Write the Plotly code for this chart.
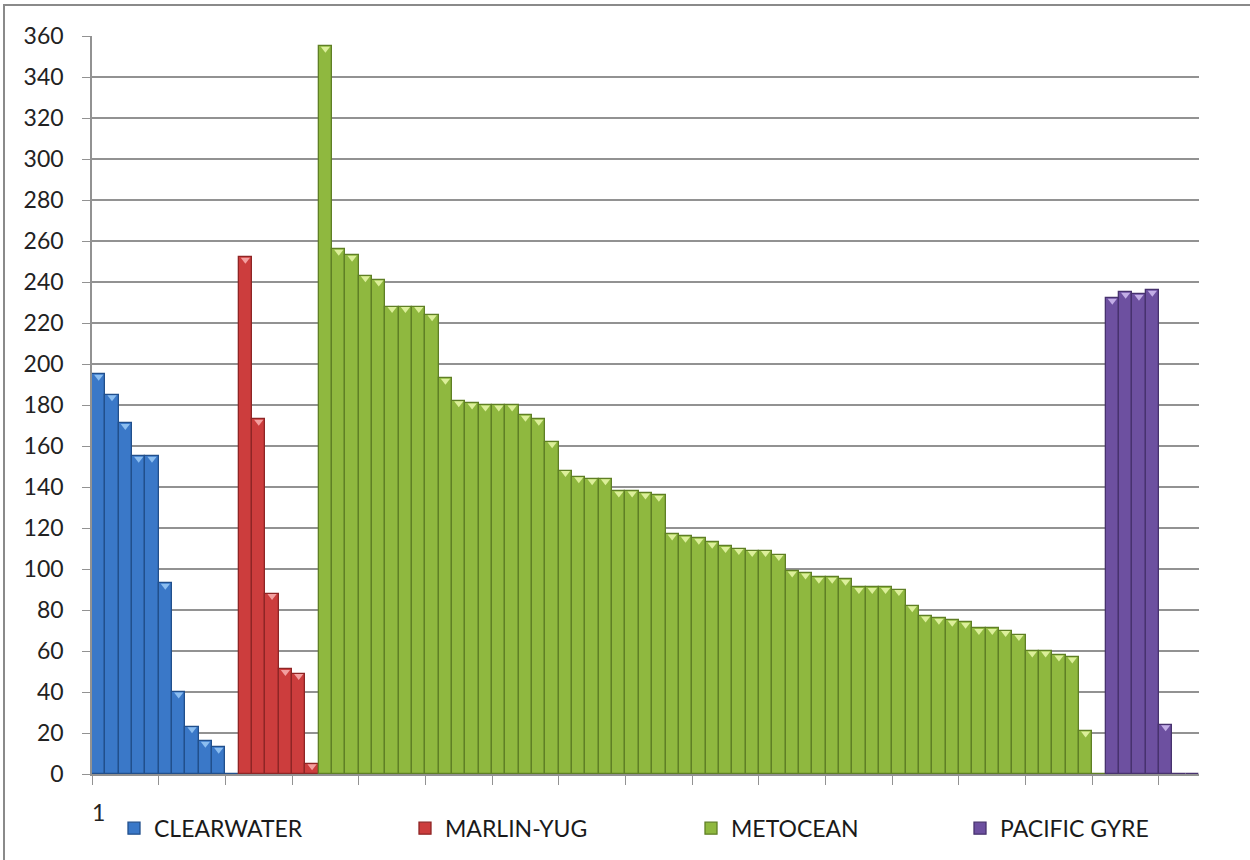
import plotly.graph_objects as go

# ---------------- data ----------------
series_names = ["CLEARWATER", "MARLIN-YUG", "METOCEAN", "PACIFIC GYRE"]
clearwater = [195, 185, 171, 155, 155, 93, 40, 23, 16, 13, 0]
marlin_yug = [252, 173, 88, 51, 49, 5]
metocean = [355, 256, 253, 243, 241, 228, 228, 228, 224, 193,
            182, 181, 180, 180, 180, 175, 173, 162, 148, 145,
            144, 144, 138, 138, 137, 136, 117, 116, 115, 113,
            111, 110, 109, 109, 107, 99, 98, 96, 96, 95,
            91, 91, 91, 90, 82, 77, 76, 75, 74, 71,
            71, 70, 68, 60, 60, 58, 57, 21, 0]
pacific_gyre = [232, 235, 234, 236, 24, 0, 0]
y_ticks = list(range(0, 361, 20))
x_tick_labels = ["1"]

# ---------------- styles ----------------
fill_colors = ["#3a78c8", "#cc3d3d", "#8fb83f", "#6d50a0"]
edge_colors = ["#214f8c", "#8e2525", "#5f7f25", "#47326e"]
tip_colors = ["#8cbef0", "#f3a0a0", "#dcef9a", "#c3aee6"]
legend_ids = ["legend", "legend2", "legend3", "legend4"]
legend_x_px = [114, 405, 691, 960]
FONT = "Lato, 'Open Sans', sans-serif"
GRID = "#929292"
W, H = 1250, 860

all_series = [clearwater, marlin_yug, metocean, pacific_gyre]

fig = go.Figure()
start = 1
n_total = sum(len(s) for s in all_series)
for name, vals, fc, ec, tc, lid in zip(series_names, all_series, fill_colors,
                                       edge_colors, tip_colors, legend_ids):
    xs = list(range(start, start + len(vals)))
    start += len(vals)
    fig.add_trace(go.Bar(
        x=xs, y=vals, name=name, width=1, legend=lid,
        marker=dict(color=fc, line=dict(color=ec, width=1.3)),
    ))
    # bevel highlight at bar tops
    tx = [x for x, v in zip(xs, vals) if v > 0]
    ty = [v - 1.2 for v in vals if v > 0]
    fig.add_trace(go.Scatter(
        x=tx, y=ty, mode="markers", showlegend=False, hoverinfo="skip",
        marker=dict(symbol="triangle-down", size=8, color=tc,
                    line=dict(width=0)),
    ))

legend_common = dict(
    orientation="h", xref="container", yref="container",
    y=0.037, xanchor="left", yanchor="middle",
    font=dict(family=FONT, size=23, color="#1a1a1a"),
    bgcolor="rgba(0,0,0,0)",
)
legends = {lid: dict(legend_common, x=px / W) for lid, px in zip(legend_ids, legend_x_px)}

fig.update_layout(
    width=W, height=H,
    margin=dict(l=92, r=51, t=36, b=86, autoexpand=False),
    paper_bgcolor="white", plot_bgcolor="white",
    barmode="overlay", bargap=0,
    font=dict(family=FONT, size=23, color="#222222"),
    showlegend=True,
    **legends,
    xaxis=dict(
        range=[0.5, n_total + 0.5],
        tickmode="array", tickvals=[1], ticktext=x_tick_labels,
        ticks="", showgrid=False, zeroline=False,
        showline=True, linecolor=GRID, linewidth=1.5,
        ticklabelstandoff=18,
        tickfont=dict(family=FONT, size=23, color="#222222"),
        minor=dict(tickmode="array",
                   tickvals=[0.5 + 5 * k for k in range(17)],
                   ticks="outside", ticklen=9, tickcolor=GRID, tickwidth=1,
                   showgrid=False),
    ),
    yaxis=dict(
        range=[0, 360], tickmode="array", tickvals=y_ticks,
        showgrid=True, gridcolor=GRID, gridwidth=1.5,
        zeroline=False, showline=True, linecolor=GRID, linewidth=1.5,
        ticks="outside", ticklen=8, tickcolor=GRID,
        ticklabelstandoff=14,
        tickfont=dict(family=FONT, size=23, color="#222222"),
    ),
    shapes=[dict(type="rect", xref="paper", yref="paper",
                 x0=(4 - 92) / 1107, x1=1.2, y0=-0.3, y1=(774 - 5) / 738,
                 line=dict(color="#8a8a8a", width=2), fillcolor="rgba(0,0,0,0)",
                 layer="below")],
)

fig.write_html("out.html")
